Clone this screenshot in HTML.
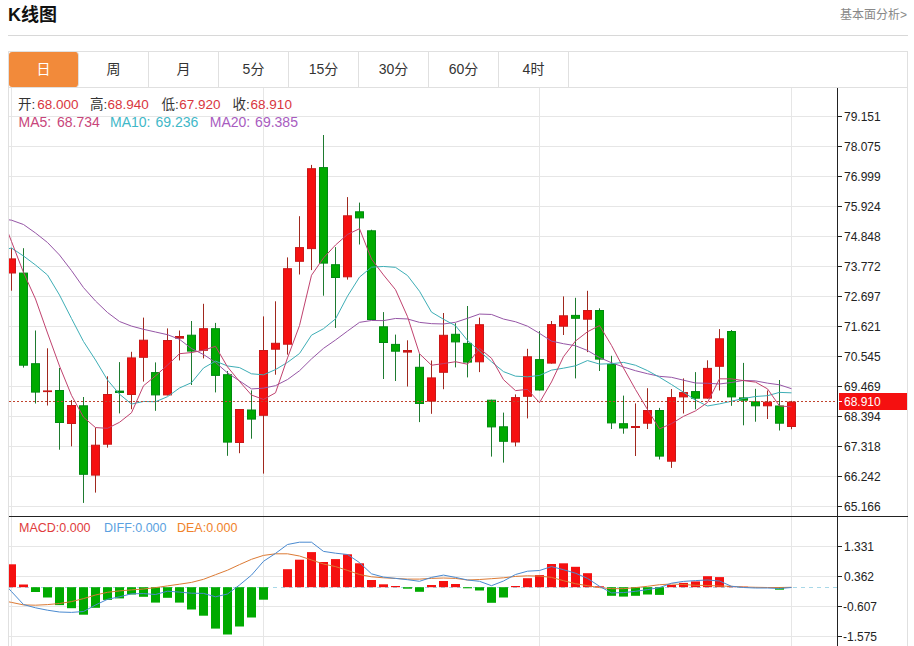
<!DOCTYPE html>
<html><head><meta charset="utf-8"><title>K线图</title>
<style>
*{margin:0;padding:0;box-sizing:border-box}
html,body{width:914px;height:646px;overflow:hidden;background:#fff}
body{position:relative;font-family:'Liberation Sans','Noto Sans CJK SC',sans-serif;color:#333}
.title{position:absolute;left:8px;top:3px;font-size:18px;font-weight:bold;color:#111;line-height:24px}
.more{position:absolute;left:840px;top:7px;font-size:12px;color:#888;line-height:16px}
.hr{position:absolute;left:8px;top:35px;width:900px;height:1px;background:#d8d8d8}
.box{position:absolute;left:8px;top:51px;width:900px;height:620px;border:1px solid #e0e0e0}
.tabs{position:absolute;left:9px;top:52px;height:36px;width:898px;border-bottom:1px solid #e0e0e0}
.tab{position:absolute;top:0;height:35px;width:70px;border-right:1px solid #e0e0e0;text-align:center;font-size:14px;line-height:35px;color:#333}
.tab.on{background:#f28a3a;background-clip:padding-box;color:#fff;border-radius:3px}
.info{position:absolute;font-size:13px;line-height:16px;white-space:nowrap}
</style></head><body>
<div class="title">K线图</div>
<div class="more">基本面分析&gt;</div>
<div class="hr"></div>
<div class="box"></div>
<div class="tabs">
<div class="tab on" style="left:0">日</div>
<div class="tab" style="left:70px">周</div>
<div class="tab" style="left:140px">月</div>
<div class="tab" style="left:210px">5分</div>
<div class="tab" style="left:280px">15分</div>
<div class="tab" style="left:350px">30分</div>
<div class="tab" style="left:420px">60分</div>
<div class="tab" style="left:490px">4时</div>
</div>
<svg width="914" height="646" viewBox="0 0 914 646" style="position:absolute;left:0;top:0">
<defs><clipPath id="cp"><rect x="9" y="88" width="828" height="428"/></clipPath><clipPath id="cm"><rect x="9" y="517" width="828" height="140"/></clipPath></defs>
<g stroke="#e6e6e6" stroke-width="1" shape-rendering="crispEdges"><line x1="9" y1="116.5" x2="837" y2="116.5"/><line x1="9" y1="146.5" x2="837" y2="146.5"/><line x1="9" y1="176.5" x2="837" y2="176.5"/><line x1="9" y1="206.5" x2="837" y2="206.5"/><line x1="9" y1="236.5" x2="837" y2="236.5"/><line x1="9" y1="266.5" x2="837" y2="266.5"/><line x1="9" y1="296.5" x2="837" y2="296.5"/><line x1="9" y1="326.5" x2="837" y2="326.5"/><line x1="9" y1="356.5" x2="837" y2="356.5"/><line x1="9" y1="386.5" x2="837" y2="386.5"/><line x1="9" y1="416.5" x2="837" y2="416.5"/><line x1="9" y1="446.5" x2="837" y2="446.5"/><line x1="9" y1="476.5" x2="837" y2="476.5"/><line x1="9" y1="506.5" x2="837" y2="506.5"/><line x1="9" y1="546.5" x2="837" y2="546.5"/><line x1="9" y1="576.5" x2="837" y2="576.5"/><line x1="9" y1="606.5" x2="837" y2="606.5"/><line x1="9" y1="636.5" x2="837" y2="636.5"/><line x1="11.5" y1="88" x2="11.5" y2="646"/><line x1="263.5" y1="88" x2="263.5" y2="646"/><line x1="539.5" y1="88" x2="539.5" y2="646"/><line x1="791.5" y1="88" x2="791.5" y2="646"/></g>
<g clip-path="url(#cp)"><rect x="11" y="248.2" width="1" height="42.5" fill="#a0281e"/><rect x="7.5" y="258.9" width="8" height="14.1" fill="#f51010" stroke="#c81818" stroke-width="1"/><rect x="23" y="248.2" width="1" height="119.4" fill="#1e7a30"/><rect x="19.5" y="273.1" width="8" height="92.1" fill="#00aa00" stroke="#008a10" stroke-width="1"/><rect x="35" y="330.5" width="1" height="73" fill="#1e7a30"/><rect x="31.5" y="363.7" width="8" height="28.4" fill="#00aa00" stroke="#008a10" stroke-width="1"/><rect x="47" y="348.3" width="1" height="57.2" fill="#a0281e"/><rect x="43" y="390.4" width="9" height="1.7" fill="#c81818"/><rect x="59" y="368" width="1" height="81.7" fill="#1e7a30"/><rect x="55.5" y="390.5" width="8" height="32" fill="#00aa00" stroke="#008a10" stroke-width="1"/><rect x="71" y="400" width="1" height="46.3" fill="#a0281e"/><rect x="67.5" y="405.5" width="8" height="18" fill="#f51010" stroke="#c81818" stroke-width="1"/><rect x="83" y="397" width="1" height="105.9" fill="#1e7a30"/><rect x="79.5" y="405.8" width="8" height="68.5" fill="#00aa00" stroke="#008a10" stroke-width="1"/><rect x="95" y="427.6" width="1" height="65" fill="#a0281e"/><rect x="91.5" y="445.2" width="8" height="29.9" fill="#f51010" stroke="#c81818" stroke-width="1"/><rect x="107" y="376.3" width="1" height="71.3" fill="#a0281e"/><rect x="103.5" y="394.5" width="8" height="49.7" fill="#f51010" stroke="#c81818" stroke-width="1"/><rect x="119" y="362.1" width="1" height="51.3" fill="#1e7a30"/><rect x="115" y="390.6" width="9" height="2.4" fill="#008a10"/><rect x="131" y="351.8" width="1" height="57.4" fill="#a0281e"/><rect x="127.5" y="357.9" width="8" height="36.6" fill="#f51010" stroke="#c81818" stroke-width="1"/><rect x="143" y="317.6" width="1" height="64" fill="#a0281e"/><rect x="139.5" y="340.2" width="8" height="17.1" fill="#f51010" stroke="#c81818" stroke-width="1"/><rect x="155" y="362.4" width="1" height="48.4" fill="#1e7a30"/><rect x="151.5" y="372.6" width="8" height="22.3" fill="#00aa00" stroke="#008a10" stroke-width="1"/><rect x="167" y="328.4" width="1" height="67" fill="#a0281e"/><rect x="163.5" y="340.5" width="8" height="54.4" fill="#f51010" stroke="#c81818" stroke-width="1"/><rect x="179" y="330.5" width="1" height="29.9" fill="#a0281e"/><rect x="175" y="336" width="9" height="2.7" fill="#c81818"/><rect x="191" y="321" width="1" height="64" fill="#1e7a30"/><rect x="187.5" y="335.2" width="8" height="15.9" fill="#00aa00" stroke="#008a10" stroke-width="1"/><rect x="203" y="303.8" width="1" height="54.6" fill="#a0281e"/><rect x="199.5" y="328.7" width="8" height="21.6" fill="#f51010" stroke="#c81818" stroke-width="1"/><rect x="215" y="322.9" width="1" height="69.5" fill="#1e7a30"/><rect x="211.5" y="328.7" width="8" height="46.7" fill="#00aa00" stroke="#008a10" stroke-width="1"/><rect x="227" y="371" width="1" height="84.8" fill="#1e7a30"/><rect x="223.5" y="374.7" width="8" height="67.4" fill="#00aa00" stroke="#008a10" stroke-width="1"/><rect x="239" y="409" width="1" height="44.2" fill="#a0281e"/><rect x="235.5" y="409.5" width="8" height="33" fill="#f51010" stroke="#c81818" stroke-width="1"/><rect x="251" y="390.4" width="1" height="48.3" fill="#1e7a30"/><rect x="247.5" y="410" width="8" height="9.1" fill="#00aa00" stroke="#008a10" stroke-width="1"/><rect x="263" y="316.4" width="1" height="157.2" fill="#a0281e"/><rect x="259.5" y="350.5" width="8" height="64.8" fill="#f51010" stroke="#c81818" stroke-width="1"/><rect x="275" y="301.3" width="1" height="73.4" fill="#a0281e"/><rect x="271.5" y="343.3" width="8" height="5.9" fill="#f51010" stroke="#c81818" stroke-width="1"/><rect x="287" y="257.4" width="1" height="97.2" fill="#a0281e"/><rect x="283.5" y="268.7" width="8" height="75.5" fill="#f51010" stroke="#c81818" stroke-width="1"/><rect x="299" y="216.2" width="1" height="58.3" fill="#a0281e"/><rect x="295.5" y="247.6" width="8" height="13.7" fill="#f51010" stroke="#c81818" stroke-width="1"/><rect x="311" y="164.9" width="1" height="105.2" fill="#a0281e"/><rect x="307.5" y="168.7" width="8" height="79.9" fill="#f51010" stroke="#c81818" stroke-width="1"/><rect x="323" y="135" width="1" height="160.7" fill="#1e7a30"/><rect x="319.5" y="167.6" width="8" height="95.5" fill="#00aa00" stroke="#008a10" stroke-width="1"/><rect x="335" y="247.1" width="1" height="80.8" fill="#1e7a30"/><rect x="331.5" y="264.7" width="8" height="12.8" fill="#00aa00" stroke="#008a10" stroke-width="1"/><rect x="347" y="197.1" width="1" height="82.5" fill="#a0281e"/><rect x="343.5" y="215.8" width="8" height="61" fill="#f51010" stroke="#c81818" stroke-width="1"/><rect x="359" y="202.6" width="1" height="41.9" fill="#1e7a30"/><rect x="355.5" y="211.8" width="8" height="6.1" fill="#00aa00" stroke="#008a10" stroke-width="1"/><rect x="371" y="229.7" width="1" height="90.3" fill="#1e7a30"/><rect x="367.5" y="230.8" width="8" height="88.7" fill="#00aa00" stroke="#008a10" stroke-width="1"/><rect x="383" y="312.1" width="1" height="66.9" fill="#1e7a30"/><rect x="379.5" y="326.8" width="8" height="15.7" fill="#00aa00" stroke="#008a10" stroke-width="1"/><rect x="395" y="334.6" width="1" height="46.4" fill="#1e7a30"/><rect x="391.5" y="344.4" width="8" height="6.8" fill="#00aa00" stroke="#008a10" stroke-width="1"/><rect x="407" y="340.3" width="1" height="46.2" fill="#a0281e"/><rect x="403" y="350" width="9" height="2.6" fill="#c81818"/><rect x="419" y="353.7" width="1" height="68.4" fill="#1e7a30"/><rect x="415.5" y="367.3" width="8" height="36.2" fill="#00aa00" stroke="#008a10" stroke-width="1"/><rect x="431" y="360.5" width="1" height="53.3" fill="#a0281e"/><rect x="427.5" y="377.9" width="8" height="23.2" fill="#f51010" stroke="#c81818" stroke-width="1"/><rect x="443" y="313" width="1" height="76.2" fill="#a0281e"/><rect x="439.5" y="335.3" width="8" height="37" fill="#f51010" stroke="#c81818" stroke-width="1"/><rect x="455" y="323.2" width="1" height="44.2" fill="#1e7a30"/><rect x="451.5" y="334.3" width="8" height="7.6" fill="#00aa00" stroke="#008a10" stroke-width="1"/><rect x="467" y="306" width="1" height="71.4" fill="#1e7a30"/><rect x="463.5" y="343.4" width="8" height="18.7" fill="#00aa00" stroke="#008a10" stroke-width="1"/><rect x="479" y="317.6" width="1" height="54.5" fill="#a0281e"/><rect x="475.5" y="324.7" width="8" height="37.1" fill="#f51010" stroke="#c81818" stroke-width="1"/><rect x="491" y="399.7" width="1" height="56.9" fill="#1e7a30"/><rect x="487.5" y="400.2" width="8" height="26.7" fill="#00aa00" stroke="#008a10" stroke-width="1"/><rect x="503" y="412.6" width="1" height="50" fill="#1e7a30"/><rect x="499.5" y="426.8" width="8" height="14.5" fill="#00aa00" stroke="#008a10" stroke-width="1"/><rect x="515" y="394.4" width="1" height="52" fill="#a0281e"/><rect x="511.5" y="397.6" width="8" height="44.4" fill="#f51010" stroke="#c81818" stroke-width="1"/><rect x="527" y="348.8" width="1" height="69.6" fill="#a0281e"/><rect x="523.5" y="356.8" width="8" height="39.5" fill="#f51010" stroke="#c81818" stroke-width="1"/><rect x="539" y="331" width="1" height="59.5" fill="#1e7a30"/><rect x="535.5" y="359.6" width="8" height="30.4" fill="#00aa00" stroke="#008a10" stroke-width="1"/><rect x="551" y="321" width="1" height="42.6" fill="#a0281e"/><rect x="547.5" y="324.6" width="8" height="38.5" fill="#f51010" stroke="#c81818" stroke-width="1"/><rect x="563" y="296.4" width="1" height="38.6" fill="#a0281e"/><rect x="559.5" y="315.8" width="8" height="10.4" fill="#f51010" stroke="#c81818" stroke-width="1"/><rect x="575" y="297.8" width="1" height="80.6" fill="#1e7a30"/><rect x="571.5" y="315.4" width="8" height="2.9" fill="#00aa00" stroke="#008a10" stroke-width="1"/><rect x="587" y="290.8" width="1" height="61.3" fill="#a0281e"/><rect x="583.5" y="310.5" width="8" height="8.7" fill="#f51010" stroke="#c81818" stroke-width="1"/><rect x="599" y="308.3" width="1" height="62.7" fill="#1e7a30"/><rect x="595.5" y="310.5" width="8" height="48.6" fill="#00aa00" stroke="#008a10" stroke-width="1"/><rect x="611" y="355.8" width="1" height="73.2" fill="#1e7a30"/><rect x="607.5" y="364.5" width="8" height="58.4" fill="#00aa00" stroke="#008a10" stroke-width="1"/><rect x="623" y="395.6" width="1" height="38.1" fill="#1e7a30"/><rect x="619.5" y="423.7" width="8" height="4.3" fill="#00aa00" stroke="#008a10" stroke-width="1"/><rect x="635" y="403.4" width="1" height="52.6" fill="#a0281e"/><rect x="631" y="426" width="9" height="2" fill="#c81818"/><rect x="647" y="388.2" width="1" height="40.8" fill="#a0281e"/><rect x="643.5" y="410.5" width="8" height="12.7" fill="#f51010" stroke="#c81818" stroke-width="1"/><rect x="659" y="407.9" width="1" height="51.6" fill="#1e7a30"/><rect x="655.5" y="410.5" width="8" height="45.6" fill="#00aa00" stroke="#008a10" stroke-width="1"/><rect x="671" y="389" width="1" height="78.9" fill="#a0281e"/><rect x="667.5" y="397.6" width="8" height="63.6" fill="#f51010" stroke="#c81818" stroke-width="1"/><rect x="683" y="378.4" width="1" height="35.1" fill="#a0281e"/><rect x="679.5" y="392.6" width="8" height="4.3" fill="#f51010" stroke="#c81818" stroke-width="1"/><rect x="695" y="372.1" width="1" height="37.2" fill="#1e7a30"/><rect x="691.5" y="391.6" width="8" height="6.6" fill="#00aa00" stroke="#008a10" stroke-width="1"/><rect x="707" y="360.3" width="1" height="38.3" fill="#a0281e"/><rect x="703.5" y="368.4" width="8" height="29.7" fill="#f51010" stroke="#c81818" stroke-width="1"/><rect x="719" y="329.1" width="1" height="61.4" fill="#a0281e"/><rect x="715.5" y="338.8" width="8" height="27.5" fill="#f51010" stroke="#c81818" stroke-width="1"/><rect x="731" y="330" width="1" height="75.8" fill="#1e7a30"/><rect x="727.5" y="331.5" width="8" height="65.4" fill="#00aa00" stroke="#008a10" stroke-width="1"/><rect x="743" y="362.9" width="1" height="62.4" fill="#1e7a30"/><rect x="739.5" y="397.9" width="8" height="2.3" fill="#00aa00" stroke="#008a10" stroke-width="1"/><rect x="755" y="388.8" width="1" height="32.9" fill="#1e7a30"/><rect x="751.5" y="401.8" width="8" height="4" fill="#00aa00" stroke="#008a10" stroke-width="1"/><rect x="767" y="390.5" width="1" height="28.5" fill="#a0281e"/><rect x="763.5" y="402.2" width="8" height="3.6" fill="#f51010" stroke="#c81818" stroke-width="1"/><rect x="779" y="380" width="1" height="50.5" fill="#1e7a30"/><rect x="775.5" y="406" width="8" height="17.2" fill="#00aa00" stroke="#008a10" stroke-width="1"/><rect x="791" y="400.8" width="1" height="28.4" fill="#a0281e"/><rect x="787.5" y="402.1" width="8" height="24.4" fill="#f51010" stroke="#c81818" stroke-width="1"/></g>
<g clip-path="url(#cp)" stroke-linejoin="round">
<polyline points="-0.5,218.5 11.5,220.2 23.5,224.5 35.5,233 47.5,242.5 59.5,255 71.5,270.6 83.5,287.6 95.5,301 107.5,312.5 119.5,321.5 131.5,326.1 143.5,329.3 155.5,332 167.5,334.7 179.5,339.3 191.5,348.6 203.5,354.5 215.5,362.4 227.5,372.9 239.5,380.87 251.5,388.93 263.5,388.14 275.5,385.66 287.5,379.54 299.5,370.75 311.5,358.91 323.5,348.35 335.5,340.01 347.5,331.08 359.5,322.35 371.5,320.48 383.5,320.64 395.5,318.46 407.5,318.96 419.5,322.36 431.5,323.65 443.5,323.98 455.5,322.31 467.5,318.31 479.5,314.06 491.5,314.46 503.5,319.04 515.5,321.76 527.5,326.17 539.5,333.33 551.5,341.13 563.5,343.72 575.5,345.75 587.5,350.49 599.5,357.55 611.5,362.72 623.5,367 635.5,370.71 647.5,373.71 659.5,376.34 671.5,377.32 683.5,380.19 695.5,383 707.5,383.27 719.5,383.98 731.5,382.48 743.5,380.42 755.5,380.88 767.5,383.15 779.5,384.81 791.5,388.69" fill="none" stroke="#9656a6" stroke-width="1" />
<polyline points="-0.5,251 11.5,248 23.5,256 35.5,265 47.5,275 59.5,295 71.5,318.5 83.5,341.5 95.5,360 107.5,380 119.5,394.16 131.5,404.06 143.5,401.46 155.5,401.74 167.5,396.7 179.5,388 191.5,382.66 203.5,368 215.5,361.12 227.5,365.98 239.5,367.58 251.5,373.8 263.5,374.83 275.5,369.57 287.5,362.39 299.5,353.5 311.5,335.16 323.5,328.7 335.5,318.91 347.5,296.18 359.5,277.12 371.5,267.16 383.5,266.46 395.5,267.35 407.5,275.53 419.5,291.22 431.5,312.14 443.5,319.26 455.5,325.7 467.5,340.43 479.5,351.01 491.5,361.75 503.5,371.63 515.5,376.17 527.5,376.8 539.5,375.45 551.5,370.12 563.5,368.17 575.5,365.81 587.5,360.55 599.5,364.09 611.5,363.69 623.5,362.36 635.5,365.25 647.5,370.62 659.5,377.23 671.5,384.53 683.5,392.21 695.5,400.2 707.5,405.99 719.5,403.86 731.5,401.26 743.5,398.48 755.5,396.51 767.5,395.68 779.5,392.39 791.5,392.84" fill="none" stroke="#3eaeb6" stroke-width="1" />
<polyline points="-0.5,210.5 11.5,241.5 23.5,272.5 35.5,299 47.5,333 59.5,366.02 71.5,395.34 83.5,417.16 95.5,427.58 107.5,428.3 119.5,422.3 131.5,412.78 143.5,385.76 155.5,375.9 167.5,365.1 179.5,353.7 191.5,352.54 203.5,350.24 215.5,346.34 227.5,366.86 239.5,381.46 251.5,395.06 263.5,399.42 275.5,392.8 287.5,357.92 299.5,325.54 311.5,275.26 323.5,257.98 335.5,245.02 347.5,234.44 359.5,228.7 371.5,259.06 383.5,274.94 395.5,289.68 407.5,316.62 419.5,353.74 431.5,365.22 443.5,363.58 455.5,361.72 467.5,364.24 479.5,348.28 491.5,358.28 503.5,379.68 515.5,390.62 527.5,389.36 539.5,402.62 551.5,381.96 563.5,356.66 575.5,341 587.5,331.74 599.5,325.56 611.5,345.42 623.5,368.06 635.5,389.5 647.5,409.5 659.5,428.9 671.5,423.64 683.5,416.36 695.5,410.9 707.5,402.48 719.5,378.82 731.5,378.88 743.5,380.6 755.5,382.12 767.5,388.88 779.5,405.96 791.5,406.8" fill="none" stroke="#c0426e" stroke-width="1" />
</g>
<line x1="9" y1="401.5" x2="837" y2="401.5" stroke="#c0442e" stroke-width="1" stroke-dasharray="2,2" shape-rendering="crispEdges"/>
<line x1="9" y1="587.5" x2="837" y2="587.5" stroke="#a8d8e8" stroke-width="1" stroke-dasharray="4,4"/>
<g clip-path="url(#cm)"><rect x="7" y="564.3" width="9" height="22.9" fill="#f51010"/><rect x="19" y="584.5" width="9" height="2.7" fill="#f51010"/><rect x="31" y="587.2" width="9" height="4.8" fill="#00aa00"/><rect x="43" y="587.2" width="9" height="10.3" fill="#00aa00"/><rect x="55" y="587.2" width="9" height="17.9" fill="#00aa00"/><rect x="67" y="587.2" width="9" height="21" fill="#00aa00"/><rect x="79" y="587.2" width="9" height="27.5" fill="#00aa00"/><rect x="91" y="587.2" width="9" height="20.6" fill="#00aa00"/><rect x="103" y="587.2" width="9" height="12.7" fill="#00aa00"/><rect x="115" y="587.2" width="9" height="11.2" fill="#00aa00"/><rect x="127" y="587.2" width="9" height="7.3" fill="#00aa00"/><rect x="139" y="587.2" width="9" height="9.6" fill="#00aa00"/><rect x="151" y="587.2" width="9" height="15.4" fill="#00aa00"/><rect x="163" y="587.2" width="9" height="10.6" fill="#00aa00"/><rect x="175" y="587.2" width="9" height="15.4" fill="#00aa00"/><rect x="187" y="587.2" width="9" height="22.3" fill="#00aa00"/><rect x="199" y="587.2" width="9" height="28.5" fill="#00aa00"/><rect x="211" y="587.2" width="9" height="41.4" fill="#00aa00"/><rect x="223" y="587.2" width="9" height="47.3" fill="#00aa00"/><rect x="235" y="587.2" width="9" height="39.3" fill="#00aa00"/><rect x="247" y="587.2" width="9" height="30.3" fill="#00aa00"/><rect x="259" y="587.2" width="9" height="12.5" fill="#00aa00"/><rect x="283" y="569.2" width="9" height="18" fill="#f51010"/><rect x="295" y="559.7" width="9" height="27.5" fill="#f51010"/><rect x="307" y="552.1" width="9" height="35.1" fill="#f51010"/><rect x="319" y="562" width="9" height="25.2" fill="#f51010"/><rect x="331" y="559.1" width="9" height="28.1" fill="#f51010"/><rect x="343" y="554.3" width="9" height="32.9" fill="#f51010"/><rect x="355" y="563.3" width="9" height="23.9" fill="#f51010"/><rect x="367" y="580" width="9" height="7.2" fill="#f51010"/><rect x="379" y="584.3" width="9" height="2.9" fill="#f51010"/><rect x="391" y="586" width="9" height="1.2" fill="#f51010"/><rect x="403" y="587.2" width="9" height="1.5" fill="#00aa00"/><rect x="415" y="587.2" width="9" height="4.6" fill="#00aa00"/><rect x="427" y="585" width="9" height="2.2" fill="#f51010"/><rect x="439" y="581" width="9" height="6.2" fill="#f51010"/><rect x="451" y="584" width="9" height="3.2" fill="#f51010"/><rect x="463" y="587.2" width="9" height="1.1" fill="#00aa00"/><rect x="475" y="587.2" width="9" height="3.3" fill="#00aa00"/><rect x="487" y="587.2" width="9" height="15.6" fill="#00aa00"/><rect x="499" y="587.2" width="9" height="10.3" fill="#00aa00"/><rect x="511" y="586" width="9" height="1.2" fill="#f51010"/><rect x="523" y="578.2" width="9" height="9" fill="#f51010"/><rect x="535" y="575.1" width="9" height="12.1" fill="#f51010"/><rect x="547" y="564" width="9" height="23.2" fill="#f51010"/><rect x="559" y="563.3" width="9" height="23.9" fill="#f51010"/><rect x="571" y="566.8" width="9" height="20.4" fill="#f51010"/><rect x="583" y="573.2" width="9" height="14" fill="#f51010"/><rect x="595" y="586.3" width="9" height="0.9" fill="#f51010"/><rect x="607" y="587.2" width="9" height="8.6" fill="#00aa00"/><rect x="619" y="587.2" width="9" height="9.4" fill="#00aa00"/><rect x="631" y="587.2" width="9" height="8.6" fill="#00aa00"/><rect x="643" y="587.2" width="9" height="7.3" fill="#00aa00"/><rect x="655" y="587.2" width="9" height="7.7" fill="#00aa00"/><rect x="667" y="585" width="9" height="2.2" fill="#f51010"/><rect x="679" y="582.9" width="9" height="4.3" fill="#f51010"/><rect x="691" y="581.4" width="9" height="5.8" fill="#f51010"/><rect x="703" y="576.2" width="9" height="11" fill="#f51010"/><rect x="715" y="577.1" width="9" height="10.1" fill="#f51010"/><rect x="727" y="586.1" width="9" height="1.1" fill="#f51010"/><rect x="739" y="586.7" width="9" height="0.5" fill="#f51010"/><rect x="775" y="587.2" width="9" height="2.5" fill="#00aa00"/></g>
<g clip-path="url(#cm)" stroke-linejoin="round">
<polyline points="-0.5,600 11.5,602.4 23.5,604.9 35.5,605.2 47.5,604.6 59.5,603.5 71.5,601.6 83.5,598.6 95.5,595 107.5,592.3 119.5,590.9 131.5,589.9 143.5,589 155.5,587.6 167.5,585.9 179.5,584.2 191.5,582.4 203.5,579.3 215.5,574.7 227.5,570.2 239.5,564.6 251.5,559.3 263.5,555.4 275.5,553.8 287.5,553.8 299.5,556 311.5,560 323.5,564 335.5,566.6 347.5,570.4 359.5,574.5 371.5,576.8 383.5,577.8 395.5,578.4 407.5,579.1 419.5,579.1 431.5,578.4 443.5,578 455.5,578.4 467.5,580 479.5,579.5 491.5,578.7 503.5,577.8 515.5,576.4 527.5,575.8 539.5,576.1 551.5,577.4 563.5,580.7 575.5,583.7 587.5,585.7 599.5,587.6 611.5,588.7 623.5,588.7 635.5,587.6 647.5,586.3 659.5,584.7 671.5,584 683.5,584.5 695.5,585.3 707.5,585.5 719.5,586 731.5,586.3 743.5,587 755.5,587.3 767.5,587.5 779.5,587.5 791.5,587.3" fill="none" stroke="#dc7a34" stroke-width="1" />
<polyline points="-0.5,578.2 11.5,591.6 23.5,604.5 35.5,607.8 47.5,610.2 59.5,612 71.5,612.4 83.5,611.5 95.5,605 107.5,599.3 119.5,596.8 131.5,593.8 143.5,593.6 155.5,594.5 167.5,591.2 179.5,592.1 191.5,593.2 203.5,593.4 215.5,596.8 227.5,594 239.5,585 251.5,575.1 263.5,561.3 275.5,553.4 287.5,544.5 299.5,542.2 311.5,542.2 323.5,551.4 335.5,553.2 347.5,554.5 359.5,562.6 371.5,573.8 383.5,577.1 395.5,578.4 407.5,579.7 419.5,581.3 431.5,577.4 443.5,575.1 455.5,577.4 467.5,580 479.5,581.3 491.5,585.7 503.5,581 515.5,574.5 527.5,571.2 539.5,570.5 551.5,566.6 563.5,569.7 575.5,573.2 587.5,578.4 599.5,586.3 611.5,592.9 623.5,592.6 635.5,591.3 647.5,589.6 659.5,587.6 671.5,583.2 683.5,581.4 695.5,580.6 707.5,580 719.5,581 731.5,586.3 743.5,587.5 755.5,588 767.5,588 779.5,588.5 791.5,587.5" fill="none" stroke="#4a8ad0" stroke-width="1" />
</g>
<g stroke="#222" stroke-width="1" shape-rendering="crispEdges">
<line x1="837.5" y1="88" x2="837.5" y2="646"/>
<line x1="9" y1="516.5" x2="908" y2="516.5"/>
<line x1="837" y1="116.5" x2="842" y2="116.5"/>
<line x1="837" y1="146.5" x2="842" y2="146.5"/>
<line x1="837" y1="176.5" x2="842" y2="176.5"/>
<line x1="837" y1="206.5" x2="842" y2="206.5"/>
<line x1="837" y1="236.5" x2="842" y2="236.5"/>
<line x1="837" y1="266.5" x2="842" y2="266.5"/>
<line x1="837" y1="296.5" x2="842" y2="296.5"/>
<line x1="837" y1="326.5" x2="842" y2="326.5"/>
<line x1="837" y1="356.5" x2="842" y2="356.5"/>
<line x1="837" y1="386.5" x2="842" y2="386.5"/>
<line x1="837" y1="416.5" x2="842" y2="416.5"/>
<line x1="837" y1="446.5" x2="842" y2="446.5"/>
<line x1="837" y1="476.5" x2="842" y2="476.5"/>
<line x1="837" y1="506.5" x2="842" y2="506.5"/>
<line x1="837" y1="546.5" x2="842" y2="546.5"/>
<line x1="837" y1="576.5" x2="842" y2="576.5"/>
<line x1="837" y1="606.5" x2="842" y2="606.5"/>
<line x1="837" y1="636.5" x2="842" y2="636.5"/>
</g>
<g style="font-family:'Liberation Sans','Noto Sans CJK SC',sans-serif;font-size:12px" fill="#222"><text x="844" y="120.5">79.151</text><text x="844" y="150.5">78.075</text><text x="844" y="180.5">76.999</text><text x="844" y="210.5">75.924</text><text x="844" y="240.5">74.848</text><text x="844" y="270.5">73.772</text><text x="844" y="300.5">72.697</text><text x="844" y="330.5">71.621</text><text x="844" y="360.5">70.545</text><text x="844" y="390.5">69.469</text><text x="844" y="420.5">68.394</text><text x="844" y="450.5">67.318</text><text x="844" y="480.5">66.242</text><text x="844" y="510.5">65.166</text><text x="844" y="550.5">1.331</text><text x="844" y="580.5">0.362</text><text x="843" y="610.5">-0.607</text><text x="843" y="640.5">-1.575</text></g>
<rect x="839" y="393" width="68" height="17" fill="#f51010"/>
<line x1="838" y1="401.5" x2="842" y2="401.5" stroke="#fff" stroke-width="1"/>
<text x="844" y="406" style="font-family:'Liberation Sans','Noto Sans CJK SC',sans-serif;font-size:12px" fill="#fff">68.910</text>
</svg>
<svg width="914" height="646" style="position:absolute;left:0;top:0" font-family="Liberation Sans, Noto Sans CJK SC, sans-serif"><text x="18" y="108.7" fill="#333" style="font-size:13.5px">开:</text><text x="37.2" y="108.7" fill="#d9363e" style="font-size:13.5px">68.000</text><text x="90" y="108.7" fill="#333" style="font-size:13.5px">高:</text><text x="107.4" y="108.7" fill="#d9363e" style="font-size:13.5px">68.940</text><text x="161.5" y="108.7" fill="#333" style="font-size:13.5px">低:</text><text x="179.3" y="108.7" fill="#d9363e" style="font-size:13.5px">67.920</text><text x="232.4" y="108.7" fill="#333" style="font-size:13.5px">收:</text><text x="250.6" y="108.7" fill="#d9363e" style="font-size:13.5px">68.910</text><text x="18.5" y="126.6" fill="#c8457a" style="font-size:14px">MA5:</text><text x="57" y="126.6" fill="#c8457a" style="font-size:14px">68.734</text><text x="110" y="126.6" fill="#3fb8c8" style="font-size:14px">MA10:</text><text x="155.5" y="126.6" fill="#3fb8c8" style="font-size:14px">69.236</text><text x="209.8" y="126.6" fill="#a85cc0" style="font-size:14px">MA20:</text><text x="255.1" y="126.6" fill="#a85cc0" style="font-size:14px">69.385</text></svg>
<div class="info" style="left:19px;top:520px;color:#e03c3c;font-size:12.5px">MACD:0.000</div>
<div class="info" style="left:104px;top:520px;color:#5a9fe0;font-size:12.5px">DIFF:0.000</div>
<div class="info" style="left:177px;top:520px;color:#f0822a;font-size:12.5px">DEA:0.000</div>
</body></html>
